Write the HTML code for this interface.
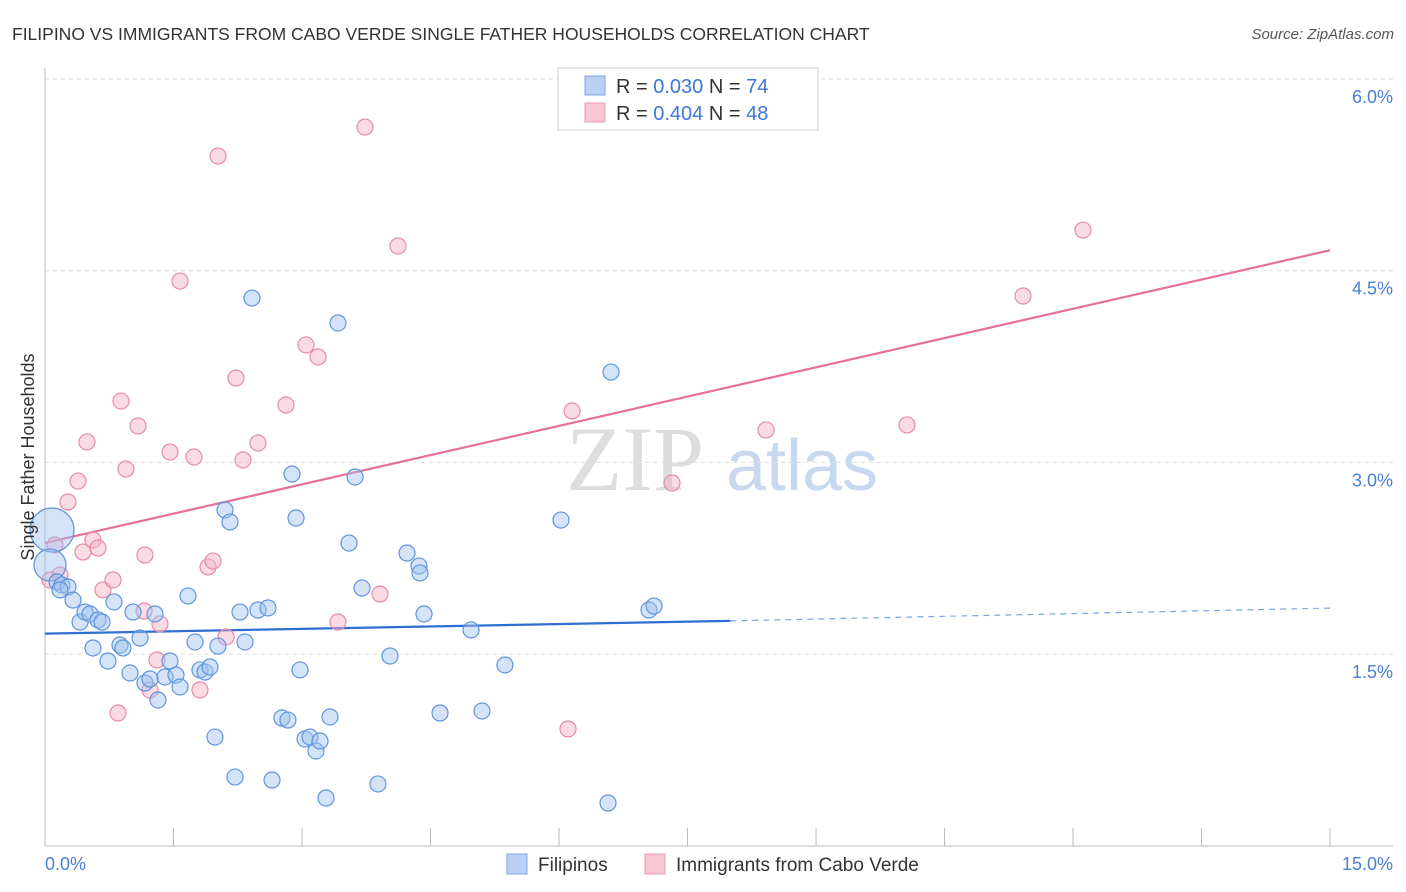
<!DOCTYPE html>
<html><head><meta charset="utf-8"><style>
body{margin:0;background:#fff;font-family:"Liberation Sans",sans-serif;}
svg{display:block}
</style></head><body>
<svg id="chart" width="1406" height="892" viewBox="0 0 1406 892">
<text x="12" y="40" font-size="17.5" fill="#333">FILIPINO VS IMMIGRANTS FROM CABO VERDE SINGLE FATHER HOUSEHOLDS CORRELATION CHART</text>
<text x="1394" y="39" font-size="15" font-style="italic" fill="#555" text-anchor="end">Source: ZipAtlas.com</text>
<g><text x="635" y="490" font-size="92" font-family="Liberation Serif,serif" fill="#ddd" text-anchor="middle">ZIP</text><text x="802" y="490" font-size="72" fill="#c8d8ee" text-anchor="middle">atlas</text></g>
<g id="grid"></g><g id="axes"></g><g id="lines"></g><g id="pts"></g>
<text transform="translate(34,457) rotate(-90)" font-size="18" fill="#333" text-anchor="middle">Single Father Households</text>
<g>
<rect x="558" y="68" width="260" height="62" fill="#fff" stroke="#ccc"/>
<rect x="585" y="76" width="20" height="19" fill="#b8d1f3" stroke="#7aa6e0"/>
<rect x="585" y="103" width="20" height="19" fill="#f9c6d4" stroke="#ec9ab4"/>
<text x="616" y="93" font-size="20" fill="#333">R = <tspan fill="#3b78d8">0.030</tspan>   N = <tspan fill="#3b78d8">74</tspan></text>
<text x="616" y="120" font-size="20" fill="#333">R = <tspan fill="#3b78d8">0.404</tspan>   N = <tspan fill="#3b78d8">48</tspan></text>
</g>
<g>
<rect x="507" y="854" width="20" height="20" fill="#b8d1f3" stroke="#7aa6e0"/>
<text x="538" y="871" font-size="19" fill="#333">Filipinos</text>
<rect x="645" y="854" width="20" height="20" fill="#f9c6d4" stroke="#ec9ab4"/>
<text x="676" y="871" font-size="19" fill="#333">Immigrants from Cabo Verde</text>
</g>
</svg>
<script>
const yTicks=[1.5,3.0,4.5,6.0];
const xTickVals=[0,1.5,3,4.5,6,7.5,9,10.5,12,13.5,15];
const bluePx=[[52,530],[50,565],[57,582],[62,585],[68,587],[73,600],[60,590],[80,622],[85,612],[90,614],[98,620],[102,622],[93,648],[108,661],[114,602],[120,645],[123,648],[130,673],[133,612],[140,638],[145,683],[150,679],[155,614],[158,700],[165,677],[170,661],[176,675],[180,687],[188,596],[195,642],[200,670],[205,672],[210,667],[215,737],[218,646],[225,510],[230,522],[235,777],[240,612],[245,642],[252,298],[258,610],[268,608],[272,780],[282,718],[288,720],[292,474],[296,518],[300,670],[305,739],[310,737],[316,751],[320,741],[326,798],[330,717],[338,323],[349,543],[355,477],[362,588],[378,784],[390,656],[407,553],[419,566],[420,573],[424,614],[440,713],[471,630],[482,711],[505,665],[561,520],[608,803],[611,372],[649,610],[654,606]];
const pinkPx=[[50,580],[55,545],[60,575],[68,502],[78,481],[87,442],[83,552],[93,540],[98,548],[103,590],[113,580],[118,713],[121,401],[126,469],[138,426],[145,555],[144,611],[150,690],[157,660],[160,624],[170,452],[180,281],[194,457],[200,690],[208,567],[213,561],[218,156],[226,637],[236,378],[243,460],[258,443],[286,405],[306,345],[318,357],[338,622],[365,127],[380,594],[398,246],[572,411],[568,729],[672,483],[766,430],[907,425],[1023,296],[1083,230]];
// data values (percent) derived from the picture
const blueX=bluePx.map(p=>+((p[0]-45)/85.67).toFixed(3));
const blueY=bluePx.map(p=>+(6-(p[1]-79)/127.8).toFixed(3));
const pinkX=pinkPx.map(p=>+((p[0]-45)/85.67).toFixed(3));
const pinkY=pinkPx.map(p=>+(6-(p[1]-79)/127.8).toFixed(3));
const blueTrend=[1.66,1.76,1.86]; // at x=0, 8.0, 15
const pinkTrend=[2.37,4.66];      // at x=0, 15
const X=v=>45+v*85.67, Y=v=>79+(6-v)*127.8;
const NS="http://www.w3.org/2000/svg";
function mk(tag,parent,attrs){const e=document.createElementNS(NS,tag);for(const k in attrs)e.setAttribute(k,attrs[k]);document.getElementById(parent).appendChild(e);return e;}
yTicks.forEach(t=>{
 const l=mk('line','grid',{x1:45,x2:1393,y1:Y(t),y2:Y(t),stroke:'#ddd','stroke-dasharray':'4,4'});
 
 
 const tx=mk('text','axes',{x:1393,y:Y(t)+24,'font-size':18,fill:'#4a7fd4','text-anchor':'end'});
 tx.textContent=t.toFixed(1)+'%';
 
 
});
const ax=mk('line','axes',{x1:45,x2:45,y1:68,y2:846,stroke:'#bbb'});


const bx=mk('line','axes',{x1:45,x2:1393,y1:846,y2:846,stroke:'#bbb'});


xTickVals.forEach(t=>{
 const l=mk('line','axes',{x1:X(t),x2:X(t),y1:828,y2:846,stroke:'#bbb'});
 
 
});
[[0,'0.0%',45,'start'],[15,'15.0%',1393,'end']].forEach(a=>{
 const tx=mk('text','axes',{x:a[2],y:870,'font-size':18,fill:'#4a7fd4','text-anchor':a[3]});
 tx.textContent=a[1];
 
 
});
function pts(xs,ys,fill,stroke,name){xs.forEach((x,i)=>{
 const big=(name==='filipino-point'&&i<2);
 const c=mk('circle','pts',{cx:X(x),cy:Y(ys[i]),r:big?(i==0?22:16):8,fill:fill,'fill-opacity':0.45,stroke:stroke,'stroke-width':1.2});
 
 
});}
pts(pinkX,pinkY,'#f5b0c4','#e88aa8','cabo-verde-point');
pts(blueX,blueY,'#9fc1ef','#5f95dc','filipino-point');
let l1=mk('line','lines',{x1:X(0),y1:Y(blueTrend[0]),x2:X(8.0),y2:Y(blueTrend[1]),stroke:'#2f6fd3','stroke-width':2.2});


let l2=mk('line','lines',{x1:X(8.0),y1:Y(blueTrend[1]),x2:X(15),y2:Y(blueTrend[2]),stroke:'#7aa6e0','stroke-width':1.2,'stroke-dasharray':'6,5'});


let l3=mk('line','lines',{x1:X(0),y1:Y(pinkTrend[0]),x2:X(15),y2:Y(pinkTrend[1]),stroke:'#e5709a','stroke-width':2.2});


</script>
</body></html>
